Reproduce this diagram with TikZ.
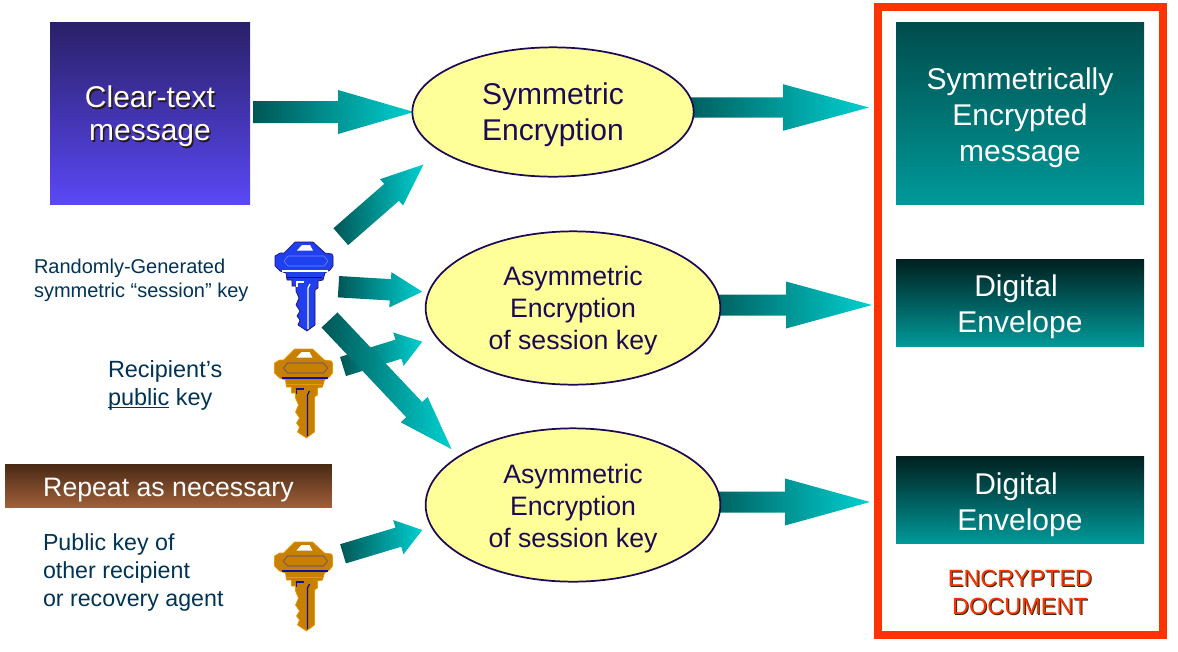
\documentclass[tikz,border=0pt]{standalone}
\usepackage{fontspec}
\setmainfont{Liberation Sans}
\usetikzlibrary{shapes.geometric,calc}
\definecolor{arrowdark}{HTML}{005656}
\definecolor{arrowmid}{HTML}{00A0A0}
\definecolor{arrowlight}{HTML}{00D0D0}
\definecolor{navy}{HTML}{1C0A55}
\definecolor{labelblue}{HTML}{003355}
\definecolor{framered}{HTML}{FF3300}
\definecolor{ellfill}{HTML}{FFFF99}
\definecolor{clrtop}{HTML}{2A2068}
\definecolor{clrbot}{HTML}{5A48F5}
\definecolor{symtop}{HTML}{004C4C}
\definecolor{symbot}{HTML}{009999}
\definecolor{envtop}{HTML}{002020}
\definecolor{reptop}{HTML}{4A2A15}
\definecolor{repbot}{HTML}{A0603A}
\definecolor{keyblue}{HTML}{2040F0}
\definecolor{keydarkb}{HTML}{200860}
\definecolor{keyplateb}{HTML}{7088FF}
\definecolor{keygold}{HTML}{C88000}
\definecolor{keydarkg}{HTML}{E89A00}
\definecolor{keyline}{HTML}{1010A0}
\definecolor{keyplateg}{HTML}{5040A0}
\newcommand{\blockarrow}[5]{%
  \path let \p1=(#1),\p2=(#2),\n1={atan2(\y2-\y1,\x2-\x1)},\n2={veclen(\x2-\x1,\y2-\y1)} in
    \pgfextra{\xdef\myang{\n1}\xdef\mylen{\n2}\xdef\mysx{\x1}\xdef\mysy{\y1}};
  \path[shift={(\mysx,\mysy)},rotate=\myang,left color=arrowdark,middle color=arrowmid,right color=arrowlight]
    (0pt,{-#3*0.75pt}) -- ({\mylen-#5*0.75pt},{-#3*0.75pt}) -- ({\mylen-#5*0.75pt},{-#4*0.75pt})
    -- (\mylen,0pt) -- ({\mylen-#5*0.75pt},{#4*0.75pt}) -- ({\mylen-#5*0.75pt},{#3*0.75pt}) -- (0pt,{#3*0.75pt}) -- cycle;
}
\newcommand{\dn}[1]{\rule{0pt}{#1pt}}
\tikzset{
  x=0.75pt,y=-0.75pt,
  plainbox/.style={rectangle,inner sep=0pt,outer sep=0pt,align=center,text=white},
  crypt/.style={ellipse,draw=navy,line width=1.3pt,fill=ellfill,inner sep=0pt,outer sep=0pt,align=center,text=navy},
  lbl/.style={inner sep=0pt,outer sep=0pt,align=left,text=labelblue},
  bigtext/.style={font={\fontsize{22.5}{27}\selectfont}},
  midtext/.style={font={\fontsize{20}{24}\selectfont}},
  pics/keyshape/.style n args={4}{code={
    \path[fill=#1,draw=#2,line width=0.5pt,line join=round]
      (-9,0) -- (9,0) -- (21,11) -- (28,12) -- (29,14) -- (29,24) -- (26,28) -- (21,31) -- (19,38) -- (14,39)
      -- (14,46) -- (11,48) -- (11,83) -- (3,89) -- (-6,83) -- (-4,78) -- (-7,74) -- (-4,69) -- (-8,63) -- (-5,56)
      -- (-8,49) -- (-8,44) -- (-12,44) -- (-12,38) -- (-17,38) -- (-18,31) -- (-24,29) -- (-29,24) -- (-29,14)
      -- (-24,11) -- (-20,11) -- cycle;
    \path[fill=white] (-7,8.5) -- (-2,3) -- (6,3) -- (9,8.5) -- cycle;
    \draw[#4,line width=0.4pt] (-20,19) -- (-16,14) -- (20,14) -- (24,19) -- (20,24) -- (-16,24) -- cycle;
    \draw[#3,line width=0.9pt] (-22,29) -- (24,29);
    \draw[#2,line width=0.5pt] (-17,35) -- (18,35);
    \draw[#3,line width=1.2pt] (-8,40) -- (0,40);
    \draw[#3,line width=0.9pt] (6,42) -- (4,46) -- (4,87);
    \draw[#3,line width=1.2pt] (-7,41) -- (-7,45);
  }}
}
\begin{document}
\begin{tikzpicture}
\useasboundingbox (0,0) rectangle (1178,651);
% frame
\node[draw=framered,line width=6.2pt,minimum width=214pt,minimum height=471pt,inner sep=0pt,outer sep=0pt] (doc) at (1020.5,321) {};
% boxes
\node[plainbox,minimum width=150pt,minimum height=136pt,top color=clrtop,bottom color=clrbot] (clear) at (150,113.5) {};
\node[plainbox,minimum width=186pt,minimum height=136pt,top color=symtop,bottom color=symbot] (symmsg) at (1020,113.5) {};
\node[plainbox,bigtext] (symmsgtxt) at (1020,118) {Symmetrically\\Encrypted\\message};
\node[plainbox,minimum width=186pt,minimum height=65pt,top color=envtop,bottom color=symbot,bigtext] (envone) at (1020,303) {\dn{22.4}Digital\hspace*{6pt}\\Envelope};
\node[plainbox,minimum width=186pt,minimum height=65pt,top color=envtop,bottom color=symbot,bigtext] (envtwo) at (1020,500) {\dn{23.9}Digital\hspace*{6pt}\\Envelope};
\node[plainbox,minimum width=245pt,minimum height=32pt,top color=reptop,bottom color=repbot,font={\fontsize{20}{23}\selectfont}] (repeat) at (168.5,486) {\dn{20.4}Repeat as necessary};
% ellipse positions (drawn after the arrows, which run beneath them)
\coordinate (symc) at (553,112);
\coordinate (aonec) at (573,308);
\coordinate (atwoc) at (573,505);
% keys
\pic at (304,242) {keyshape={keyblue}{keydarkb}{white}{keyplateb}};
\pic at (303.5,349) {keyshape={keygold}{keydarkg}{keyline}{keyplateg}};
\pic at (303.5,542) {keyshape={keygold}{keydarkg}{keyline}{keyplateg}};
% arrow end points
\coordinate (a3s) at (340.8,236.7); \coordinate (a3e) at (423.7,164.3);
\coordinate (a4s) at (338.5,286.7); \coordinate (a4e) at (422.3,291.7);
\coordinate (a5s) at (343,366.5); \coordinate (a5e) at (422.3,341.7);
\coordinate (a6s) at (329.5,320); \coordinate (a6e) at (451.7,449.3);
\coordinate (a9s) at (343,553.8); \coordinate (a9e) at (422.3,530);
\blockarrow{$(clear.east)+(3,-1.5)$}{$(symc)+(-139,0)$}{11}{22}{76}
\blockarrow{$(symc)+(121,-4.5)$}{869,107.5}{10.2}{23.3}{86}
\blockarrow{a3s}{a3e}{11.2}{17.5}{42.4}
\blockarrow{a4s}{a4e}{10.7}{17.7}{32}
\blockarrow{a5s}{a5e}{10}{17.5}{25}
\blockarrow{a6s}{a6e}{11}{18.5}{54.5}
\blockarrow{a9s}{a9e}{10}{17.9}{25}
\blockarrow{$(aonec)+(127,-3)$}{872,305}{10.5}{23.5}{86}
\blockarrow{$(atwoc)+(127,-3)$}{870,502}{10.5}{23.5}{85}
% ellipses
\node[crypt,minimum width=211pt,minimum height=97pt,bigtext] (sym) at (symc) {\dn{21}Symmetric\\Encryption};
\node[crypt,minimum width=221pt,minimum height=115pt,midtext] (asymone) at (aonec) {\dn{18.8}Asymmetric\\Encryption\\of session key};
\node[crypt,minimum width=221pt,minimum height=115pt,midtext] (asymtwo) at (atwoc) {\dn{20.3}Asymmetric\\Encryption\\of session key};
% labels
\node[plainbox,text=black!80!brown,font={\fontsize{22.5}{24.8}\selectfont}] (clearsh) at (151.5,118) {Clear-text\\message};
\node[plainbox,font={\fontsize{22.5}{24.8}\selectfont}] (cleartxt) at (150,116.5) {Clear-text\\message};
\node[lbl,anchor=west,font={\fontsize{15}{18}\selectfont}] (sess) at (34,280.5) {Randomly-Generated\\symmetric “session” key};
\node[lbl,anchor=west,font={\fontsize{17.6}{21}\selectfont}] (recip) at (108,385.5) {Recipient’s\\\underline{\smash{public}} key};
\node[lbl,anchor=west,font={\fontsize{17.4}{21}\selectfont}] (other) at (43,572) {Public key of\\other recipient\\or recovery agent};
\node[inner sep=0pt,align=center,text=black!70!brown,font={\fontsize{17.6}{21}\selectfont}] (docsh) at (1021,593) {ENCRYPTED\\DOCUMENT};
\node[inner sep=0pt,align=center,text=framered,font={\fontsize{17.6}{21}\selectfont}] (doctxt) at (1020,592) {ENCRYPTED\\DOCUMENT};
\end{tikzpicture}
\end{document}
